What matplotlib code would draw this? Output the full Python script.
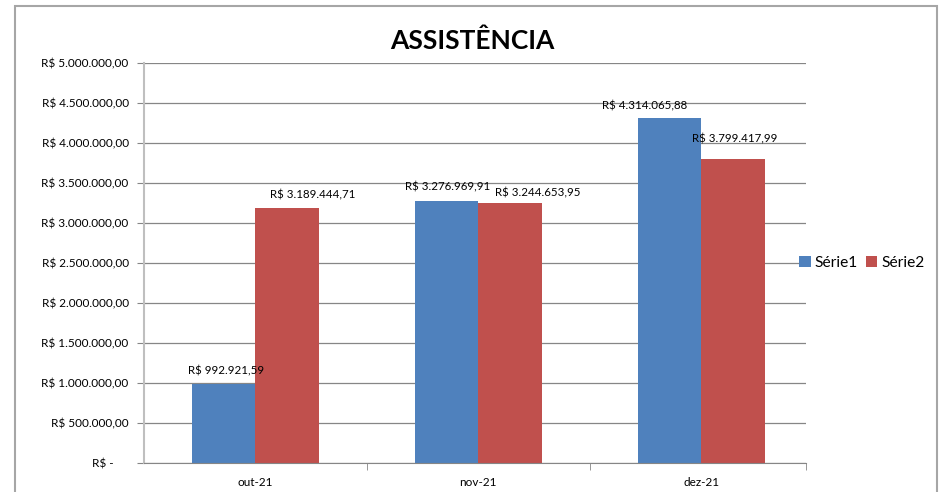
import numpy as np
import matplotlib.pyplot as plt
from matplotlib.patches import Rectangle

plt.rcParams['font.family'] = ['Lato', 'DejaVu Sans']

meses = ['out-21', 'nov-21', 'dez-21']
serie1 = [992921.59, 3276969.91, 4314065.88]
serie2 = [3189444.71, 3244653.95, 3799417.99]
yticks = np.arange(0, 5000001, 500000)

# deslocamento dos rótulos de dados (px), como ficaram no Excel
desl1 = [(2, 13), (1, 14), (-25, 12)]
desl2 = [(25, 13), (28, 11), (2, 20)]


def brl(v):
    # formato contábil do Excel: R$ 1.234.567,89
    if v == 0:
        return 'R$ -     '
    s = f'{v:,.2f}'.replace(',', 'X').replace('.', ',').replace('X', '.')
    return 'R$ ' + s


fig = plt.figure(figsize=(9.44, 4.92), dpi=100)
ax = fig.add_axes([0.1525, 0.0589, 0.7013, 0.8131])

# moldura do gráfico
fig.patches.append(Rectangle((15 / 944, -0.01), 922 / 944, 1 - 6 / 492 + 0.01,
                             transform=fig.transFigure, fill=False,
                             edgecolor='#a6a6a6', linewidth=1.5))

x = np.arange(len(meses))
w = 1 / 3.5
b1 = ax.bar(x - w / 2, serie1, w, color='#4F81BD', label='Série1')
b2 = ax.bar(x + w / 2, serie2, w, color='#C0504D', label='Série2')

for bars, vals, desl in ((b1, serie1, desl1), (b2, serie2, desl2)):
    for rect, v, (dx, dy) in zip(bars, vals, desl):
        ax.annotate(brl(v), (rect.get_x() + rect.get_width() / 2, v),
                    xytext=(dx * 0.72, dy * 0.72), textcoords='offset points',
                    ha='center', va='center', fontsize=8.3)

ax.set_xlim(-0.5, 2.47)
ax.set_ylim(0, 5000000)
ax.set_yticks(yticks)
ax.set_yticklabels([brl(v) for v in yticks], fontsize=8.5)
ax.set_xticks(x)
ax.set_xticklabels(meses, fontsize=8.5)
ax.set_xticks([0.5, 1.5, 2.47], minor=True)
ax.tick_params(axis='x', which='major', length=0, pad=10)
ax.tick_params(axis='x', which='minor', length=5, color='#868686')
ax.tick_params(axis='y', length=5, color='#868686', pad=6)

ax.yaxis.grid(True, color='#868686', linewidth=0.9)
ax.set_axisbelow(True)
for s in ('top', 'right'):
    ax.spines[s].set_visible(False)
ax.spines['left'].set_color('#bfbfbf')
ax.spines['left'].set_linewidth(1.5)
ax.spines['bottom'].set_color('#868686')

fig.text(0.5, 0.918, 'ASSISTÊNCIA', ha='center', va='center',
         fontsize=19, fontweight='bold')

ax.legend(loc='center left', bbox_to_anchor=(0.978, 0.5), frameon=False,
          fontsize=11.2, handlelength=0.75, handleheight=0.75,
          handletextpad=0.25, columnspacing=0.5, ncol=2, borderpad=0)

fig.savefig('out.png', dpi=100)
